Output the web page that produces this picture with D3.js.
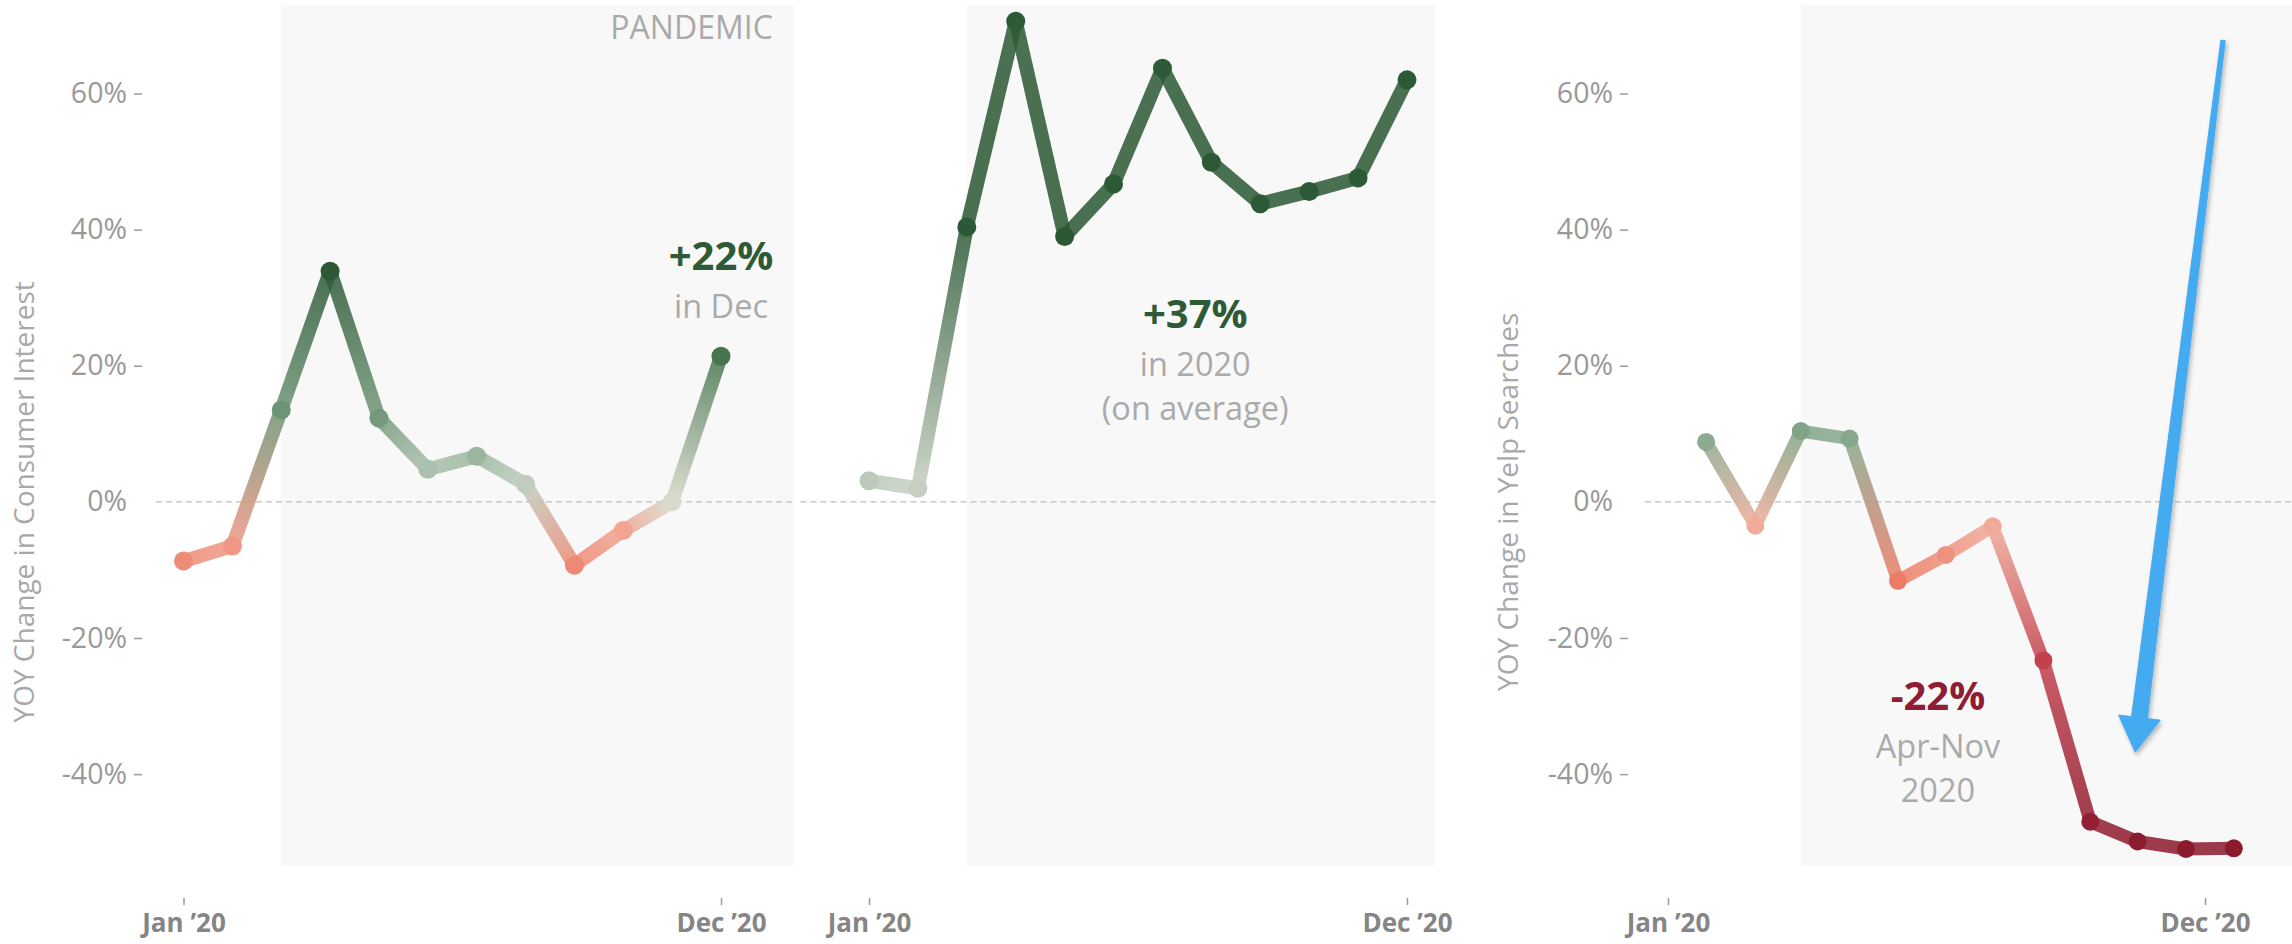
<!DOCTYPE html>
<html>
<head>
<meta charset="utf-8">
<script src="https://cdn.jsdelivr.net/npm/d3@7"></script>
<style>
  body { margin: 0; background: #fff; }
  svg { display: block; font-family: 'Open Sans', sans-serif; }
</style>
</head>
<body>
<svg id="chart" width="2292" height="944"></svg>
<script>
// ---------------- DATA ----------------
const monthLabels = ["Jan '20", "Feb", "Mar", "Apr", "May", "Jun", "Jul", "Aug", "Sep", "Oct", "Nov", "Dec '20"];
const monthIndex = [0, 1, 2, 3, 4, 5, 6, 7, 8, 9, 10, 11];
// YOY change in consumer interest (%), panel 1
const consumerInterest = [-8.7, -6.5, 13.5, 33.9, 12.3, 4.8, 6.7, 2.6, -9.3, -4.2, 0.0, 21.4];
// YOY change, panel 2 (same axis, no labels)
const secondSeries = [3.1, 2.0, 40.4, 70.6, 39.0, 46.7, 63.7, 49.9, 43.8, 45.6, 47.6, 62.0];
// YOY change in Yelp searches (%), panel 3 (points sit slightly after month ticks)
const yelpSearches = [8.8, -3.5, 10.4, 9.3, -11.6, -7.8, -3.6, -23.3, -47.0, -49.9, -51.0, -50.9];
const yelpMonthPos = [0.78, 1.79, 2.72, 3.72, 4.71, 5.69, 6.65, 7.69, 8.65, 9.62, 10.61, 11.59];
const yTickValues = [-40, -20, 0, 20, 40, 60];
const xTickValues = [0, 11];
const xTickLabels = ["Jan \u201920", "Dec \u201920"];

// ---------------- SETUP ----------------
const svg = d3.select("#chart");
const defs = svg.append("defs");
const toFrac = v => v / 100;

const y = d3.scaleLinear().domain([-0.535, 0.73]).range([866, 5]);

const color = d3.scaleLinear()
  .domain([-52, -35, -23, -12, -4, 0, 3, 7, 13, 22, 34, 72].map(toFrac))
  .range(["#8a1a2d", "#a82a3c", "#c4424f", "#ec7a64", "#f2a592", "#d8dacb",
          "#bccbbc", "#98b39c", "#6f9677", "#44734c", "#2c5835", "#2e5b37"])
  .clamp(true);

const panels = [
  { id: "p1", values: consumerInterest, pos: monthIndex, range: [183.5, 721], left: -0.56, right: 12.5,
    shadeFrom: 2, yAxis: { x: 142, title: "YOY Change in Consumer Interest", titleX: 34 },
    strokeW: 14, r: 9.5 },
  { id: "p2", values: secondSeries, pos: monthIndex, range: [869, 1407], left: -1.4, right: 11.58,
    shadeFrom: 2, yAxis: null, strokeW: 14, r: 9.5 },
  { id: "p3", values: yelpSearches, pos: yelpMonthPos, range: [1668, 2205], left: -0.47, right: 12.8,
    shadeFrom: yelpMonthPos[2], yAxis: { x: 1628, title: "YOY Change in Yelp Searches", titleX: 1518 },
    strokeW: 13, r: 9 }
];

panels.forEach(p => {
  p.x = d3.scaleLinear().domain([0, 11]).range(p.range);
});

// shading (pandemic period)
panels.forEach(p => {
  svg.append("rect")
    .attr("x", p.x(p.shadeFrom))
    .attr("y", y.range()[1])
    .attr("width", p.x(p.right) - p.x(p.shadeFrom))
    .attr("height", y.range()[0] - y.range()[1])
    .attr("fill", "#f8f8f8");
});

// zero lines
panels.forEach(p => {
  svg.append("line")
    .attr("x1", p.x(p.left)).attr("x2", p.x(p.right))
    .attr("y1", y(0)).attr("y2", y(0))
    .attr("stroke", "#bdbdbd").attr("stroke-width", 1.3)
    .attr("stroke-dasharray", "6,4");
});

// y axes
panels.forEach(p => {
  if (!p.yAxis) return;
  const g = svg.append("g").attr("transform", `translate(${p.yAxis.x},0)`)
    .call(d3.axisLeft(y).tickValues(yTickValues.map(toFrac))
      .tickFormat(d => Math.round(d * 100) + "%").tickSize(8).tickPadding(7));
  g.select(".domain").remove();
  g.selectAll(".tick line").attr("stroke", "#9a9a9a").attr("stroke-width", 1.5)
    .filter(d => d === 0).remove();
  g.selectAll(".tick text").attr("fill", "#999").attr("font-size", 28.5)
    .attr("font-family", "'Open Sans', sans-serif");
  svg.append("text")
    .attr("transform", `translate(${p.yAxis.titleX},${y(0)}) rotate(-90)`)
    .attr("text-anchor", "middle")
    .attr("fill", "#a8a8a8").attr("font-size", 28)
    .text(p.yAxis.title);
});

// x axes
panels.forEach(p => {
  const g = svg.append("g").attr("transform", "translate(0,898)")
    .call(d3.axisBottom(p.x).tickValues(xTickValues)
      .tickFormat((d, i) => xTickLabels[i]).tickSize(7).tickPadding(9));
  g.select(".domain").remove();
  g.selectAll(".tick line").attr("stroke", "#999").attr("stroke-width", 1.5);
  g.selectAll(".tick text").attr("fill", "#858585").attr("font-size", 26)
    .attr("font-weight", 700).attr("font-family", "'Open Sans', sans-serif");
});

// lines with value-based gradient, plus points
panels.forEach(p => {
  const pts = p.values.map((v, i) => ({ v: toFrac(v), x: p.x(p.pos[i]), y: y(toFrac(v)) }));
  const g = svg.append("g");
  for (let i = 0; i < pts.length - 1; i++) {
    const a = pts[i], b = pts[i + 1];
    const gid = `${p.id}-g${i}`;
    const grad = defs.append("linearGradient").attr("id", gid)
      .attr("gradientUnits", "userSpaceOnUse")
      .attr("x1", a.x).attr("y1", a.y).attr("x2", b.x).attr("y2", b.y);
    grad.append("stop").attr("offset", "0%").attr("stop-color", color(a.v));
    grad.append("stop").attr("offset", "100%").attr("stop-color", color(b.v));
    g.append("line")
      .attr("x1", a.x).attr("y1", a.y).attr("x2", b.x).attr("y2", b.y)
      .attr("stroke", `url(#${gid})`).attr("stroke-width", p.strokeW)
      .attr("stroke-linecap", "round").attr("stroke-opacity", 0.86);
  }
  g.selectAll("circle").data(pts).join("circle")
    .attr("cx", d => d.x).attr("cy", d => d.y).attr("r", p.r)
    .attr("fill", d => color(d.v));
});

// ---------------- ANNOTATIONS ----------------
const p1 = panels[0], p2 = panels[1], p3 = panels[2];
svg.append("text").attr("x", p1.x(12.06)).attr("y", y(0.68))
  .attr("text-anchor", "end").attr("fill", "#aaa").attr("font-size", 32).text("PANDEMIC");

function note(px, mx, v, big, bigColor, lines) {
  const t = svg.append("g").attr("text-anchor", "middle");
  t.append("text").attr("x", px.x(mx)).attr("y", y(v))
    .attr("fill", bigColor).attr("font-weight", 700).attr("font-size", 40).text(big);
  lines.forEach((s, i) => {
    t.append("text").attr("x", px.x(mx)).attr("y", y(v) + 48 + i * 44)
      .attr("fill", "#aaa").attr("font-size", 32.5).text(s);
  });
}
note(p1, 11, 0.34, "+22%", "#2e5a36", ["in Dec"]);
note(p2, 6.67, 0.255, "+37%", "#2e5a36", ["in 2020", "(on average)"]);
note(p3, 5.53, -0.306, "-22%", "#8f1d33", ["Apr-Nov", "2020"]);

// blue arrow
const shadow = defs.append("filter").attr("id", "shadow")
  .attr("x", "-50%").attr("y", "-10%").attr("width", "200%").attr("height", "120%");
shadow.append("feDropShadow").attr("dx", 2).attr("dy", 3).attr("stdDeviation", 2)
  .attr("flood-color", "#000").attr("flood-opacity", 0.25);

const a0 = [p3.x(11.37), y(0.678)];
const tip = [p3.x(9.57), y(-0.368)];
const dx = tip[0] - a0[0], dy = tip[1] - a0[1];
const L = Math.hypot(dx, dy);
const u = [dx / L, dy / L], n = [-u[1], u[0]];
const headLen = 35, headHalf = 21, shaftTop = 2.2, shaftBase = 8;
const base = [tip[0] - u[0] * headLen, tip[1] - u[1] * headLen];
const P = (c, k) => [c[0] + n[0] * k, c[1] + n[1] * k];
const arrowPts = [P(a0, shaftTop), P(base, shaftBase), P(base, headHalf), tip,
                  P(base, -headHalf), P(base, -shaftBase), P(a0, -shaftTop)];
svg.append("path")
  .attr("d", d3.line()(arrowPts) + "Z")
  .attr("fill", "#45abf0").attr("stroke", "#45abf0").attr("stroke-width", 1)
  .attr("stroke-linejoin", "round")
  .attr("filter", "url(#shadow)");
</script>
</body>
</html>
